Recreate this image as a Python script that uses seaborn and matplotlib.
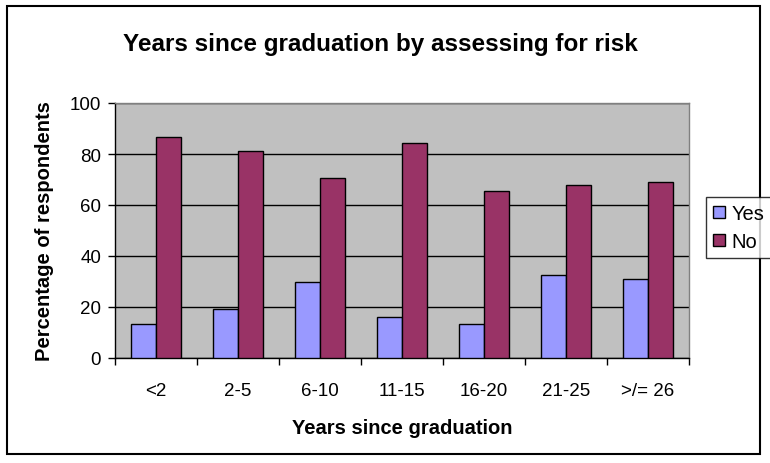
import matplotlib
matplotlib.use("Agg")
import matplotlib.pyplot as plt
import matplotlib.patches as mpatches
from matplotlib.ticker import FixedLocator
import seaborn as sns
import pandas as pd

categories = ["<2", "2-5", "6-10", "11-15", "16-20", "21-25", ">/= 26"]
yes_values = [13.4, 19.1, 29.9, 16.0, 13.4, 32.5, 31.1]
no_values = [86.6, 81.1, 70.4, 84.3, 65.3, 67.8, 68.9]
series = ["Yes", "No"]
colors = ["#9999FF", "#993366"]

df = pd.DataFrame({
    "category": categories * 2,
    "value": yes_values + no_values,
    "series": ["Yes"] * len(categories) + ["No"] * len(categories),
})

sns.set_style("white")
plt.rcParams["font.family"] = ["Liberation Sans", "DejaVu Sans"]
plt.rcParams["text.color"] = "black"
plt.rcParams["axes.labelcolor"] = "black"
plt.rcParams["xtick.color"] = "black"
plt.rcParams["ytick.color"] = "black"

fig = plt.figure(figsize=(7.7, 4.64), dpi=100)
ax = fig.add_axes([115 / 770, 1 - 359 / 464, (689 - 115) / 770, (359 - 104) / 464])

sns.barplot(data=df, x="category", y="value", hue="series", hue_order=series,
            order=categories, palette=colors, saturation=1, width=0.6,
            edgecolor="black", linewidth=1.0, ax=ax, legend=False, zorder=3)

ax.set_facecolor("#C0C0C0")
ax.set_ylim(0, 100)
ax.set_xlim(-0.5, len(categories) - 0.5)
ax.set_yticks([0, 20, 40, 60, 80, 100])
ax.yaxis.grid(True, color="black", linewidth=1.0, zorder=0)
ax.set_axisbelow(True)
ax.tick_params(axis="y", direction="out", length=5, width=1, color="black",
               labelcolor="black", labelsize=13.5, pad=5, left=True)
ax.tick_params(axis="x", which="major", length=0, labelsize=13.5, pad=17,
               labelcolor="black")
ax.xaxis.set_minor_locator(FixedLocator([i - 0.5 for i in range(len(categories) + 1)]))
ax.tick_params(axis="x", which="minor", direction="out", length=5, width=1,
               color="black", bottom=True)

for s in ["top", "right"]:
    ax.spines[s].set_color("#808080")
    ax.spines[s].set_linewidth(1.0)
for s in ["left", "bottom"]:
    ax.spines[s].set_color("black")
    ax.spines[s].set_linewidth(1.0)

ax.set_xlabel("Years since graduation", fontsize=14.5, fontweight="bold",
              labelpad=14, color="black")
ax.set_ylabel("Percentage of respondents", fontsize=14.5, fontweight="bold",
              labelpad=11, color="black")
fig.text(380 / 770, 1 - 44 / 464, "Years since graduation by assessing for risk",
         ha="center", va="center", fontsize=17.5, fontweight="bold", color="black")

handles = [mpatches.Patch(facecolor=c, edgecolor="black", linewidth=1.0, label=l)
           for c, l in zip(colors, series)]
leg = fig.legend(handles=handles, loc="upper left",
                 bbox_to_anchor=(706 / 770, 1 - 198 / 464), bbox_transform=fig.transFigure,
                 fontsize=14.5, frameon=True, fancybox=False, handlelength=0.6,
                 handleheight=0.6, handletextpad=0.3, borderpad=0.35, labelspacing=0.45,
                 borderaxespad=0)
leg.get_frame().set_edgecolor("black")
leg.get_frame().set_linewidth(1.0)
for t in leg.get_texts():
    t.set_color("black")

fig.patches.append(mpatches.Rectangle((7 / 770, 1 - 455 / 464), (760 - 7) / 770, (455 - 7) / 464,
                                      transform=fig.transFigure, fill=False,
                                      edgecolor="black", linewidth=1.5))

fig.savefig("out.png", dpi=100)
